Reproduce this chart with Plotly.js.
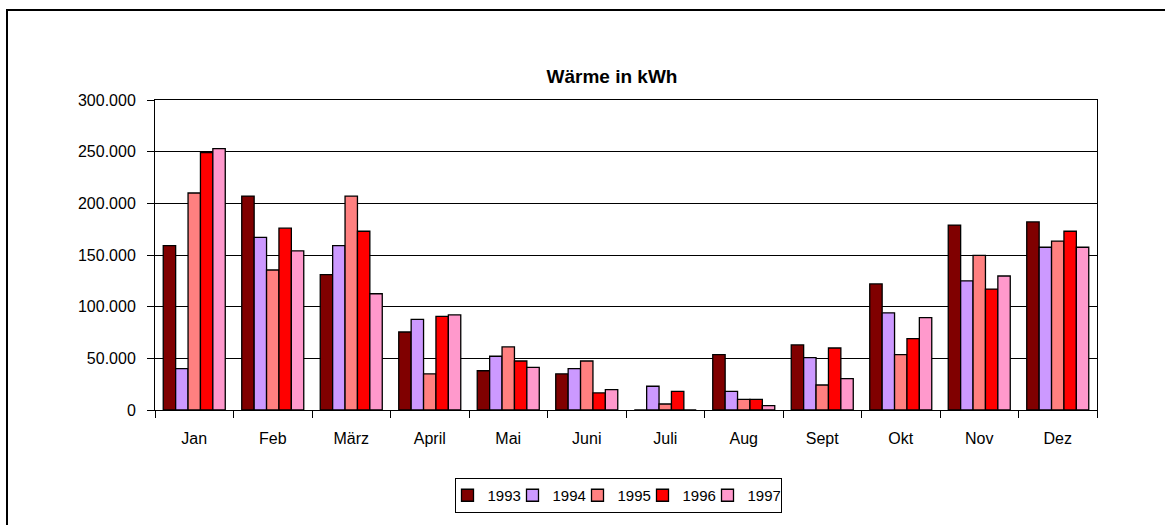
<!DOCTYPE html>
<html>
<head>
<meta charset="utf-8">
<script src="https://cdn.plot.ly/plotly-3.0.1.min.js"></script>
<style>
  html, body { margin: 0; padding: 0; background: #fff; }
  #wrap { position: relative; width: 1165px; height: 525px; overflow: hidden; }
  #chart { width: 1165px; height: 525px; }
  #frame { position: absolute; left: 6px; top: 9px; width: 3000px; height: 3000px;
           border-left: 2px solid #000; border-top: 2px solid #000; pointer-events: none; }
</style>
</head>
<body>
<div id="wrap">
  <div id="chart"></div>
  <div id="frame"></div>
</div>
<script>
const months = ["Jan", "Feb", "März", "April", "Mai", "Juni", "Juli", "Aug", "Sept", "Okt", "Nov", "Dez"];
const years = ["1993", "1994", "1995", "1996", "1997"];
const v1993 = [159000, 207000, 131000, 75500, 38000, 35000, 0, 53500, 63000, 122000, 179000, 182000];
const v1994 = [40000, 167000, 159000, 87700, 52000, 40000, 23000, 18000, 50600, 94000, 125000, 157500];
const v1995 = [210000, 135500, 207000, 35000, 61000, 47400, 5800, 10300, 24200, 53500, 149700, 163500];
const v1996 = [249000, 176000, 173000, 90600, 47400, 16500, 18000, 10300, 60000, 69000, 117000, 173000];
const v1997 = [253000, 154000, 112500, 92000, 41300, 19700, 0, 4200, 30300, 89400, 129700, 157500];
const yTicks = [0, 50000, 100000, 150000, 200000, 250000, 300000];

const seriesValues = [v1993, v1994, v1995, v1996, v1997];
const colors = ["#800000", "#CC99FF", "#FF8080", "#FF0000", "#FF99CC"];

const FONT = "Liberation Sans, Arial, sans-serif";

const traces = years.map((yr, i) => ({
  type: "bar",
  name: yr,
  x: months,
  y: seriesValues[i],
  marker: { color: colors[i], line: { color: "#000", width: 1.3 } },
  hoverinfo: "skip"
}));

const layout = {
  width: 1165,
  height: 525,
  margin: { l: 155, r: 68, t: 100, b: 115 },
  paper_bgcolor: "#fff",
  plot_bgcolor: "#fff",
  font: { family: FONT, color: "#000", size: 16 },
  separators: ",.",
  title: {
    text: "<b>Wärme in kWh</b>",
    font: { family: FONT, size: 19, color: "#000" },
    x: 612 / 1165,
    xanchor: "center",
    y: 1 - 76 / 525,
    yanchor: "middle",
    yref: "container"
  },
  barmode: "group",
  bargap: 0.21,
  bargroupgap: 0,
  xaxis: {
    type: "category",
    showline: true,
    linecolor: "#000",
    linewidth: 1,
    mirror: true,
    ticks: "outside",
    tickson: "boundaries",
    ticklen: 7,
    tickcolor: "#000",
    showgrid: false,
    tickfont: { family: FONT, size: 16, color: "#000" },
    ticklabelstandoff: 14,
    fixedrange: true
  },
  yaxis: {
    range: [0, 300000],
    tickvals: yTicks,
    tickformat: ",d",
    showline: true,
    linecolor: "#000",
    linewidth: 1,
    mirror: true,
    ticks: "outside",
    ticklen: 7,
    tickcolor: "#000",
    showgrid: true,
    gridcolor: "#000",
    gridwidth: 1,
    zeroline: false,
    tickfont: { family: FONT, size: 16, color: "#000" },
    ticklabelstandoff: 8,
    fixedrange: true
  },
  legend: {
    orientation: "h",
    x: (618 - 155) / 942,
    xanchor: "center",
    y: (410 - 478) / 310,
    yanchor: "top",
    bordercolor: "#000",
    borderwidth: 1,
    bgcolor: "#fff",
    font: { family: FONT, size: 15, color: "#000" },
    indentation: -8,
    itemwidth: 30,
    entrywidth: 28,
    entrywidthmode: "pixels",
    traceorder: "normal"
  },
  showlegend: true
};

Plotly.newPlot("chart", traces, layout, { displayModeBar: false, staticPlot: true });
</script>
</body>
</html>
